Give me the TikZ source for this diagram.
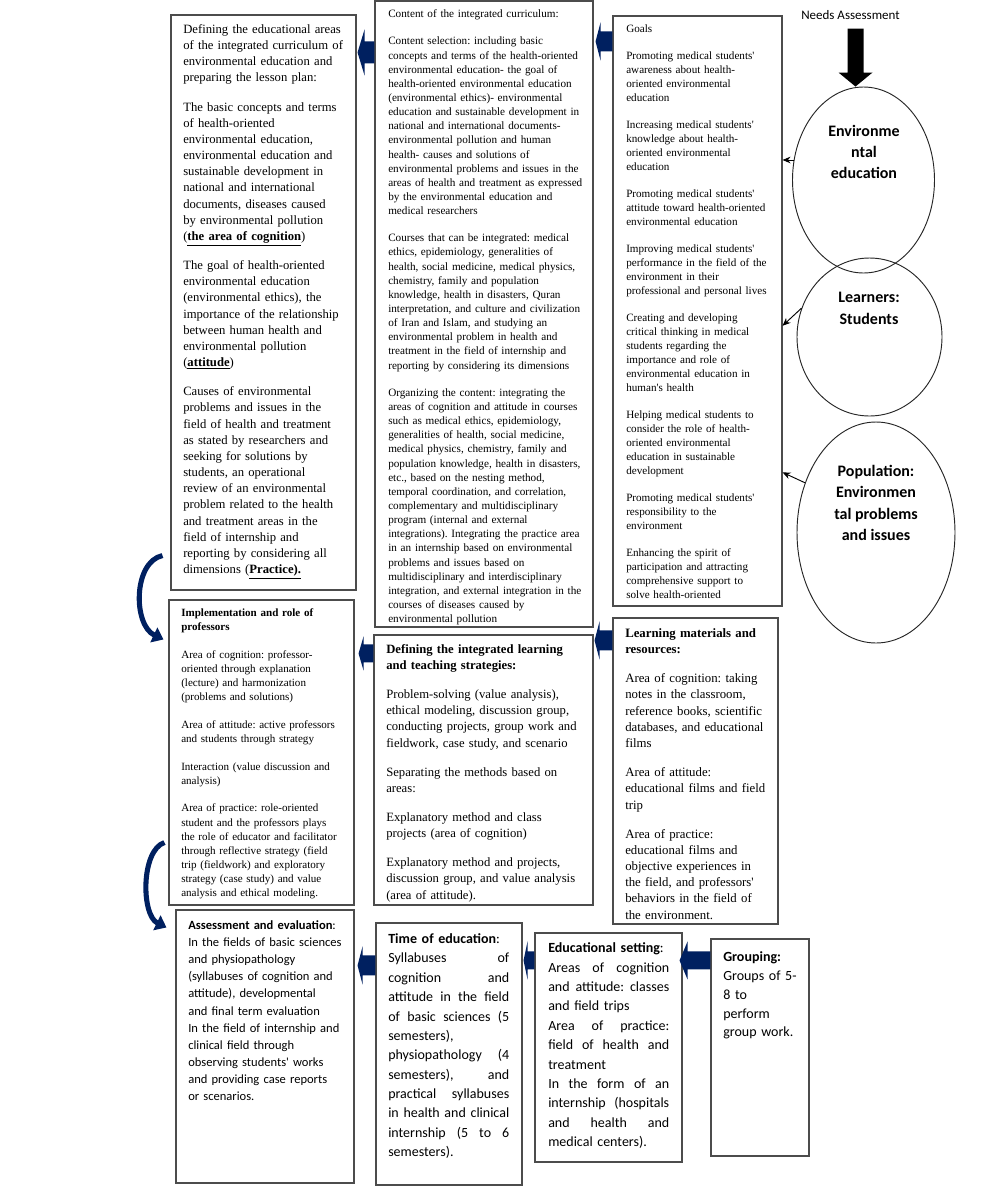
\documentclass[tikz,border=0pt]{standalone}
\usepackage{fontspec}
\setmainfont{Liberation Serif}
\newfontfamily\tnr{Liberation Serif}
\newfontfamily\calibri{Carlito}
\usetikzlibrary{arrows.meta,calc,shapes.geometric,fit}
\definecolor{arrnavy}{HTML}{002060}
\newcommand\jl[1]{\makebox[90.75pt][l]{#1}}
\newcommand\barrow[5]{\fill[arrnavy] (#1) -- ++(#3,-#4) -- ++(0,{#4-#5}) -- ($(#2|-#1)+(0,-#5)$) -- ($(#2|-#1)+(0,#5)$) -- ($(#1)+(#3,#5)$) -- ++(0,{#4-#5}) -- cycle;}
\tikzset{
  box/.style={draw=black!70, line width=0.8pt, inner sep=0pt},
  txt/.style={anchor=north west, inner sep=0pt, align=left, text width=260pt},
  ell/.style={ellipse, draw=black!85, line width=0.7pt, inner sep=0pt},
  elltxt/.style={align=center, font=\calibri\bfseries\fontsize{12}{16}\selectfont},
  thinarr/.style={-{Stealth[length=6pt,width=5pt]}, line width=0.7pt},
  curvarr/.style={arrnavy, line width=3.8pt, -{Triangle[length=8pt,width=12pt]}},
}
\begin{document}
\frenchspacing
\begin{tikzpicture}[x=0.75pt,y=-0.75pt]
\useasboundingbox (0,0) rectangle (1000,1186);
\fill[white] (0,0) rectangle (1000,1186);

% ---------- boxes ----------
\node[box, fit={(171,15) (356,590)}] (A) {};
\node[box, fit={(375,1) (593,627)}] (B) {};
\node[box, fit={(613,16) (782,606)}] (goals) {};
\node[box, fit={(169,600) (354,905)}] (C) {};
\node[box, fit={(374,635) (593,905)}] (D) {};
\node[box, fit={(613,618) (778,924)}] (E) {};
\node[box, fit={(176,910) (354,1183)}] (F) {};
\node[box, fit={(376,923) (522,1185)}] (G) {};
\node[box, fit={(535,933) (682,1162)}] (H) {};
\node[box, fit={(711,939) (809,1156)}] (I) {};

% ---------- box texts ----------
\node[txt, font=\tnr\fontsize{9.5}{12.12}\selectfont] (At) at (183,24.2) {Defining the educational areas\\
of the integrated curriculum of\\
environmental education and\\
preparing the lesson plan:\\[9.8pt]
The basic concepts and terms\\
of health-oriented\\
environmental education,\\
environmental education and\\
sustainable development in\\
national and international\\
documents, diseases caused\\
by environmental pollution\\
(\underline{\textbf{the area of cognition}})\\[9.8pt]
The goal of health-oriented\\
environmental education\\
(environmental ethics), the\\
importance of the relationship\\
between human health and\\
environmental pollution\\
(\underline{\textbf{attitude}})\\[9.8pt]
Causes of environmental\\
problems and issues in the\\
field of health and treatment\\
as stated by researchers and\\
seeking for solutions by\\
students, an operational\\
review of an environmental\\
problem related to the health\\
and treatment areas in the\\
field of internship and\\
reporting by considering all\\
dimensions (\underline{\textbf{Practice).}}};

\begin{scope}
\clip (B.north west) rectangle (B.south east);
\node[txt, font=\tnr\fontsize{8.4}{10.61}\selectfont] (Bt) at (388,9.6) {Content of the integrated curriculum:\\[9.75pt]
Content selection: including basic\\
concepts and terms of the health-oriented\\
environmental education- the goal of\\
health-oriented environmental education\\
(environmental ethics)- environmental\\
education and sustainable development in\\
national and international documents-\\
environmental pollution and human\\
health- causes and solutions of\\
environmental problems and issues in the\\
areas of health and treatment as expressed\\
by the environmental education and\\
medical researchers\\[9.75pt]
Courses that can be integrated: medical\\
ethics, epidemiology, generalities of\\
health, social medicine, medical physics,\\
chemistry, family and population\\
knowledge, health in disasters, Quran\\
interpretation, and culture and civilization\\
of Iran and Islam, and studying an\\
environmental problem in health and\\
treatment in the field of internship and\\
reporting by considering its dimensions\\[9.75pt]
Organizing the content: integrating the\\
areas of cognition and attitude in courses\\
such as medical ethics, epidemiology,\\
generalities of health, social medicine,\\
medical physics, chemistry, family and\\
population knowledge, health in disasters,\\
etc., based on the nesting method,\\
temporal coordination, and correlation,\\
complementary and multidisciplinary\\
program (internal and external\\
integrations). Integrating the practice area\\
in an internship based on environmental\\
problems and issues based on\\
multidisciplinary and interdisciplinary\\
integration, and external integration in the\\
courses of diseases caused by\\
environmental pollution};
\end{scope}

\node[txt, font=\tnr\fontsize{8.35}{10.43}\selectfont] (goalst) at (626,24.7) {Goals\\[10pt]
Promoting medical students'\\
awareness about health-\\
oriented environmental\\
education\\[10pt]
Increasing medical students'\\
knowledge about health-\\
oriented environmental\\
education\\[10pt]
Promoting medical students'\\
attitude toward health-oriented\\
environmental education\\[10pt]
Improving medical students'\\
performance in the field of the\\
environment in their\\
professional and personal lives\\[10pt]
Creating and developing\\
critical thinking in medical\\
students regarding the\\
importance and role of\\
environmental education in\\
human's health\\[10pt]
Helping medical students to\\
consider the role of health-\\
oriented environmental\\
education in sustainable\\
development\\[10pt]
Promoting medical students'\\
responsibility to the\\
environment\\[10pt]
Enhancing the spirit of\\
participation and attracting\\
comprehensive support to\\
solve health-oriented};

\node[txt, font=\tnr\fontsize{8.3}{10.55}\selectfont] (Ct) at (181,608.8) {\textbf{Implementation and role of}\\
\textbf{professors}\\[10.2pt]
Area of cognition: professor-\\
oriented through explanation\\
(lecture) and harmonization\\
(problems and solutions)\\[10.2pt]
Area of attitude: active professors\\
and students through strategy\\[10.2pt]
Interaction (value discussion and\\
analysis)\\[10.2pt]
Area of practice: role-oriented\\
student and the professors plays\\
the role of educator and facilitator\\
through reflective strategy (field\\
trip (fieldwork) and exploratory\\
strategy (case study) and value\\
analysis and ethical modeling.};

\begin{scope}
\clip (D.north west) rectangle (D.south east);
\node[txt, font=\tnr\fontsize{9.5}{12.08}\selectfont] (Dt) at (386,644.3) {\textbf{Defining the integrated learning}\\
\textbf{and teaching strategies:}\\[9.8pt]
Problem-solving (value analysis),\\
ethical modeling, discussion group,\\
conducting projects, group work and\\
fieldwork, case study, and scenario\\[9.8pt]
Separating the methods based on\\
areas:\\[9.8pt]
Explanatory method and class\\
projects (area of cognition)\\[9.8pt]
Explanatory method and projects,\\
discussion group, and value analysis\\
(area of attitude).};
\end{scope}

\node[txt, font=\tnr\fontsize{9.6}{12.15}\selectfont] (Et) at (625,628.2) {\textbf{Learning materials and}\\
\textbf{resources:}\\[9.7pt]
Area of cognition: taking\\
notes in the classroom,\\
reference books, scientific\\
databases, and educational\\
films\\[9.7pt]
Area of attitude:\\
educational films and field\\
trip\\[9.7pt]
Area of practice:\\
educational films and\\
objective experiences in\\
the field, and professors'\\
behaviors in the field of\\
the environment.};

\node[txt, font=\calibri\fontsize{9.4}{12.85}\selectfont] (Ft) at (188,920.3) {\textbf{Assessment and evaluation}:\\
In the fields of basic sciences\\
and physiopathology\\
(syllabuses of cognition and\\
attitude), developmental\\
and final term evaluation\\
In the field of internship and\\
clinical field through\\
observing students' works\\
and providing case reports\\
or scenarios.};

\node[txt, font=\calibri\fontsize{10.5}{14.52}\selectfont] (Gt) at (388,933.5) {\textbf{Time of education}:\\
\jl{Syllabuses \hfill of}\\
\jl{cognition \hfill and}\\
\jl{attitude \hfill in \hfill the \hfill field}\\
\jl{of \hfill basic \hfill sciences \hfill (5}\\
semesters),\\
\jl{physiopathology \hfill (4}\\
\jl{semesters), \hfill and}\\
\jl{practical \hfill syllabuses}\\
\jl{in \hfill health \hfill and \hfill clinical}\\
\jl{internship \hfill (5 \hfill to \hfill 6}\\
semesters).};

\node[txt, font=\calibri\fontsize{10.5}{14.55}\selectfont] (Ht) at (548,942.5) {\textbf{Educational setting}:\\
\jl{Areas \hfill of \hfill cognition}\\
\jl{and \hfill attitude: \hfill classes}\\
and field trips\\
\jl{Area \hfill of \hfill practice:}\\
\jl{field \hfill of \hfill health \hfill and}\\
treatment\\
\jl{In \hfill the \hfill form \hfill of \hfill an}\\
\jl{internship \hfill (hospitals}\\
\jl{and \hfill health \hfill and}\\
medical centers).};

\node[txt, text width=100pt, font=\calibri\fontsize{10.5}{14.1}\selectfont] (It) at (723,951.5) {\textbf{Grouping:}\\
Groups of 5-\\
8 to\\
perform\\
group work.};

% ---------- block arrows ----------
\coordinate (t1) at ($(A.north east)+(1,38)$);
\barrow{t1}{B.west}{7}{23}{11}
\coordinate (t2) at ($(B.north east)+(2,41)$);
\barrow{t2}{goals.west}{5}{19}{10}
\coordinate (t3) at ($(C.north east)+(4,54)$);
\barrow{t3}{D.west}{5}{17}{9}
\coordinate (t4) at ($(D.north east)+(1,6)$);
\barrow{t4}{E.west}{5}{19}{10}
\coordinate (t5) at ($(F.north east)+(3,56)$);
\barrow{t5}{G.west}{5}{19}{10}
\coordinate (t6) at ($(G.north east)+(1,38)$);
\barrow{t6}{H.west}{4}{19}{9}
\coordinate (t7) at ($(H.north east)+(-3,28)$);
\barrow{t7}{I.west}{8}{19}{9}

% ---------- curved arrows ----------
\coordinate (c1s) at ($(A.south west)+(-8,-35)$);
\coordinate (c1e) at ($(C.north west)+(-5,40)$);
\draw[curvarr] (c1s) .. controls (133,562) and (133,625) .. (c1e);
\coordinate (c2s) at ($(C.south west)+(-4,-63)$);
\coordinate (c2e) at ($(F.north west)+(-9,18)$);
\draw[curvarr] (c2s) .. controls (141,850) and (141,915) .. (c2e);

% ---------- ellipses ----------
\node[ell, minimum width=106.5pt, minimum height=139.5pt] (env) at (863.5,180) {};
\node[ell, minimum width=108.75pt, minimum height=118.5pt] (learn) at (869.5,337) {};
\node[ell, minimum width=118.5pt, minimum height=165.75pt] (pop) at (876,532.5) {};
\node[elltxt] (envt) at (864,152) {Environme\\ntal\\education};
\node[elltxt] (learnt) at (869,308.5) {Learners:\\Students};
\node[elltxt] (popt) at (876,503) {Population:\\Environmen\\tal problems\\and issues};

% ---------- needs assessment ----------
\node[font=\calibri\fontsize{9.75}{12}\selectfont] (needs) at (850.5,15) {Needs Assessment};
\coordinate (nt) at ($(env.north)+(-8,0)$);
\fill[black] (nt) -- ++(-17,-14) -- ++(9,0) -- ++(0,-44) -- ++(16,0) -- ++(0,44) -- ++(9,0) -- cycle;

% ---------- small arrows ----------
\draw[thinarr] (env.164) -- (env.164 -| goals.east);
\draw[thinarr] (learn.157) -- ($(goals.north east)!0.525!(goals.south east)$);
\draw[thinarr] (pop.145) -- ($(goals.north east)!0.773!(goals.south east)$);
\end{tikzpicture}
\end{document}
